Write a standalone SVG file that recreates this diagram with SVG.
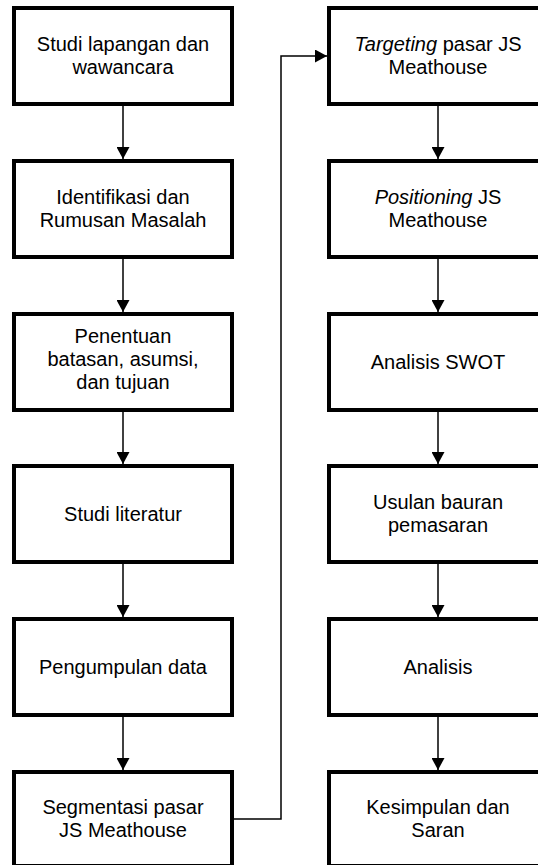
<svg xmlns="http://www.w3.org/2000/svg" width="538" height="865" viewBox="0 0 538 865">
<style>
.box{fill:#fff;stroke:#000;stroke-width:4}
.t{font-family:"Liberation Sans",Arial,sans-serif;font-size:20px;fill:#000;text-anchor:middle}
.c{fill:none;stroke:#000;stroke-width:1.5}
</style>
<defs>
<marker id="ah" markerWidth="13" markerHeight="13" viewBox="0 0 12 13" refX="12" refY="6.5" orient="auto" markerUnits="userSpaceOnUse">
<path d="M0,0 L12,6.5 L0,13 Z" fill="#000"/>
</marker>
</defs>
<rect width="538" height="865" fill="#fff"/>
<g id="connectors">
<line class="c" x1="123" y1="106" x2="123" y2="159" marker-end="url(#ah)"/>
<line class="c" x1="123" y1="259" x2="123" y2="312" marker-end="url(#ah)"/>
<line class="c" x1="123" y1="412" x2="123" y2="464" marker-end="url(#ah)"/>
<line class="c" x1="123" y1="564" x2="123" y2="617" marker-end="url(#ah)"/>
<line class="c" x1="123" y1="717" x2="123" y2="770" marker-end="url(#ah)"/>
<polyline class="c" points="234,819 281,819 281,56 327,56" marker-end="url(#ah)"/>
<line class="c" x1="438" y1="106" x2="438" y2="159" marker-end="url(#ah)"/>
<line class="c" x1="438" y1="259" x2="438" y2="312" marker-end="url(#ah)"/>
<line class="c" x1="438" y1="412" x2="438" y2="464" marker-end="url(#ah)"/>
<line class="c" x1="438" y1="564" x2="438" y2="617" marker-end="url(#ah)"/>
<line class="c" x1="438" y1="717" x2="438" y2="770" marker-end="url(#ah)"/>
</g>
<g id="n1"><rect class="box" x="14" y="8" width="218" height="96"/>
<text class="t" x="123" y="51">Studi lapangan dan</text><text class="t" x="123" y="74">wawancara</text></g>
<g id="n2"><rect class="box" x="14" y="161" width="218" height="96"/>
<text class="t" x="123" y="204">Identifikasi dan</text><text class="t" x="123" y="227">Rumusan Masalah</text></g>
<g id="n3"><rect class="box" x="14" y="314" width="218" height="96"/>
<text class="t" x="123" y="343">Penentuan</text><text class="t" x="123" y="366">batasan, asumsi,</text><text class="t" x="123" y="389">dan tujuan</text></g>
<g id="n4"><rect class="box" x="14" y="466" width="218" height="96"/>
<text class="t" x="123" y="521">Studi literatur</text></g>
<g id="n5"><rect class="box" x="14" y="619" width="218" height="96"/>
<text class="t" x="123" y="674">Pengumpulan data</text></g>
<g id="n6"><rect class="box" x="14" y="772" width="218" height="94"/>
<text class="t" x="123" y="814">Segmentasi pasar</text><text class="t" x="123" y="837">JS Meathouse</text></g>
<g id="n7"><rect class="box" x="329" y="8" width="218" height="96"/>
<text class="t" x="438" y="51"><tspan font-style="italic">Targeting</tspan> pasar JS</text><text class="t" x="438" y="74">Meathouse</text></g>
<g id="n8"><rect class="box" x="329" y="161" width="218" height="96"/>
<text class="t" x="438" y="204"><tspan font-style="italic">Positioning</tspan> JS</text><text class="t" x="438" y="227">Meathouse</text></g>
<g id="n9"><rect class="box" x="329" y="314" width="218" height="96"/>
<text class="t" x="438" y="369">Analisis SWOT</text></g>
<g id="n10"><rect class="box" x="329" y="466" width="218" height="96"/>
<text class="t" x="438" y="509">Usulan bauran</text><text class="t" x="438" y="532">pemasaran</text></g>
<g id="n11"><rect class="box" x="329" y="619" width="218" height="96"/>
<text class="t" x="438" y="674">Analisis</text></g>
<g id="n12"><rect class="box" x="329" y="772" width="218" height="94"/>
<text class="t" x="438" y="814">Kesimpulan dan</text><text class="t" x="438" y="837">Saran</text></g>
</svg>
